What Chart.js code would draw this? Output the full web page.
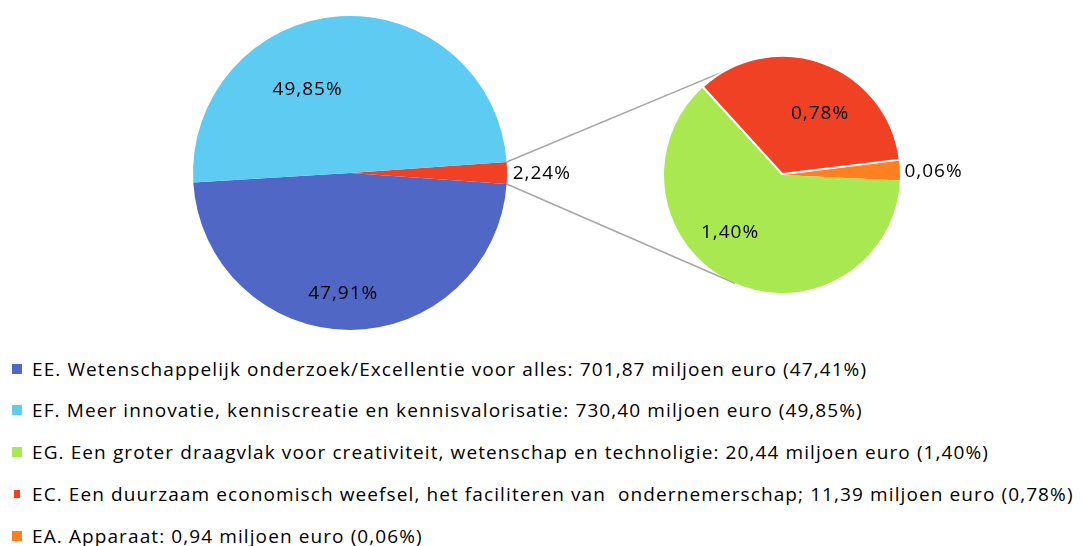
<!DOCTYPE html>
<html>
<head>
<meta charset="utf-8">
<script src="https://cdn.jsdelivr.net/npm/chart.js@4.4.0/dist/chart.umd.min.js"></script>
<style>
    body { margin: 0; background: #fff; width: 1082px; height: 546px; overflow: hidden; position: relative; font-family: "Open Sans", sans-serif; }
    #links { position: absolute; left: 0; top: 0; }
    #mainPie { position: absolute; left: 180px; top: 3px; }
    #subPie { position: absolute; left: 652px; top: 45px; }
    .item { position: absolute; left: 12px; height: 24px; display: flex; align-items: center; font-size: 19px; letter-spacing: 1.1px; color: #000; white-space: pre; }
    .box { width: 10px; height: 10px; margin-right: 10px; }
</style>
</head>
<body>
<canvas id="links" width="1082" height="340"></canvas>
<canvas id="mainPie" width="420" height="340"></canvas>
<canvas id="subPie" width="330" height="260"></canvas>
<div id="legend"></div>

<script>
// Main pie: the small "rest" slice is split out in the second pie
const mainLabels = ['Rest', 'EE', 'EF'];
const mainValues = [2.24, 47.91, 49.85];
const mainColors = ['#F04124', '#5067C6', '#5DCBF2'];

// Second pie
const subLabels = ['EA', 'EG', 'EC'];
const subValues = [0.06, 1.40, 0.78];
const subColors = ['#FF8020', '#A9E851', '#F04124'];

// Legend
const legendTexts = [
    'EE. Wetenschappelijk onderzoek/Excellentie voor alles: 701,87 miljoen euro (47,41%)',
    'EF. Meer innovatie, kenniscreatie en kennisvalorisatie: 730,40 miljoen euro (49,85%)',
    'EG. Een groter draagvlak voor creativiteit, wetenschap en technoligie: 20,44 miljoen euro (1,40%)',
    'EC. Een duurzaam economisch weefsel, het faciliteren van  ondernemerschap; 11,39 miljoen euro (0,78%)',
    'EA. Apparaat: 0,94 miljoen euro (0,06%)'
];
const legendColors = ['#5067C6', '#5DCBF2', '#A9E851', '#F04124', '#FF8020'];

// label placement per slice: angle shift (deg), radius fraction, alignment
const mainLabelPos = [[0, 1.03, 'left'], [3, 0.76, 'center'], [-23, 0.6, 'center']];
const subLabelPos = [[0, 1.03, 'left'], [17.5, 0.65, 'center'], [11, 0.62, 'center']];

function fmt(v) {
    return v.toFixed(2).replace('.', ',') + '%';
}

function labelPlugin(pos) {
    return {
        id: 'sliceLabels',
        afterDatasetsDraw(chart) {
            const ctx = chart.ctx;
            const meta = chart.getDatasetMeta(0);
            const values = chart.data.datasets[0].data;
            ctx.save();
            ctx.font = '19px "Open Sans", sans-serif';
            ctx.letterSpacing = '1px';
            ctx.fillStyle = '#000';
            ctx.textBaseline = 'middle';
            meta.data.forEach((arc, i) => {
                const p = arc.getProps(['x', 'y', 'startAngle', 'endAngle', 'outerRadius']);
                const mid = (p.startAngle + p.endAngle) / 2 + pos[i][0] * Math.PI / 180;
                const r = p.outerRadius * pos[i][1];
                ctx.textAlign = pos[i][2];
                ctx.fillText(fmt(values[i]), p.x + r * Math.cos(mid) + (pos[i][2] === 'left' ? 1 : 0), p.y + r * Math.sin(mid) + 1);
            });
            ctx.restore();
        }
    };
}

const baseOptions = {
    responsive: false,
    devicePixelRatio: 1,
    animation: false,
    events: [],
    plugins: { legend: { display: false }, tooltip: { enabled: false } }
};

const mainSum = mainValues.reduce((a, b) => a + b, 0);
const mainChart = new Chart(document.getElementById('mainPie'), {
    type: 'pie',
    data: {
        labels: mainLabels,
        datasets: [{ data: mainValues, backgroundColor: mainColors, borderWidth: 0 }]
    },
    options: Object.assign({}, baseOptions, {
        rotation: 90 - mainValues[0] / mainSum * 180,
        layout: { padding: { left: 13, right: 93, top: 13, bottom: 13 } }
    }),
    plugins: [labelPlugin(mainLabelPos)]
});

// connector lines from the split slice to the second pie
const linkPlugin = {
    id: 'links',
    afterDraw(chart) {
        const lc = document.getElementById('links');
        const ctx = lc.getContext('2d');
        ctx.clearRect(0, 0, lc.width, lc.height);
        const mainCanvas = document.getElementById('mainPie');
        const subCanvas = document.getElementById('subPie');
        const a = mainChart.getDatasetMeta(0).data[0].getProps(['x', 'y', 'startAngle', 'endAngle', 'outerRadius']);
        const b = chart.getDatasetMeta(0).data[1].getProps(['x', 'y', 'outerRadius']);
        const ax = a.x + mainCanvas.offsetLeft, ay = a.y + mainCanvas.offsetTop;
        const cx = b.x + subCanvas.offsetLeft, cy = b.y + subCanvas.offsetTop;
        const pts = [a.startAngle, a.endAngle].map(t => [ax + a.outerRadius * Math.cos(t), ay + a.outerRadius * Math.sin(t)]);
        ctx.strokeStyle = '#A6A6A6';
        ctx.lineWidth = 1.5;
        pts.forEach((p, k) => {
            const dx = p[0] - cx, dy = p[1] - cy;
            const d = Math.hypot(dx, dy);
            const th = Math.atan2(dy, dx);
            const al = Math.acos(b.outerRadius / d);
            const t1 = th + al, t2 = th - al;
            const y1 = Math.sin(t1), y2 = Math.sin(t2);
            const t = k === 0 ? (y1 < y2 ? t1 : t2) : (y1 > y2 ? t1 : t2);
            ctx.beginPath();
            ctx.moveTo(p[0], p[1]);
            ctx.lineTo(cx + b.outerRadius * Math.cos(t), cy + b.outerRadius * Math.sin(t));
            ctx.stroke();
        });
    }
};

const subChart = new Chart(document.getElementById('subPie'), {
    type: 'pie',
    data: {
        labels: subLabels,
        datasets: [{
            data: subValues,
            backgroundColor: subColors,
            borderColor: '#fff',
            borderWidth: [0, 0, 2],
            offset: [0, 0, 4]
        }]
    },
    options: Object.assign({}, baseOptions, {
        rotation: 83,
        layout: { padding: { left: 9, right: 79, top: 9, bottom: 9 } }
    }),
    plugins: [labelPlugin(subLabelPos), linkPlugin]
});

// legend
const legend = document.getElementById('legend');
const rowCenters = [369, 410, 452, 494, 536];
legendTexts.forEach((txt, i) => {
    const row = document.createElement('div');
    row.className = 'item';
    row.style.top = (rowCenters[i] - 12) + 'px';
    const box = document.createElement('span');
    box.className = 'box';
    box.style.background = legendColors[i];
    if (i === 3) { box.style.width = '6px'; box.style.height = '8px'; box.style.margin = '0 12px 0 2px'; }
    row.appendChild(box);
    row.appendChild(document.createTextNode(txt));
    legend.appendChild(row);
});
</script>
</body>
</html>
